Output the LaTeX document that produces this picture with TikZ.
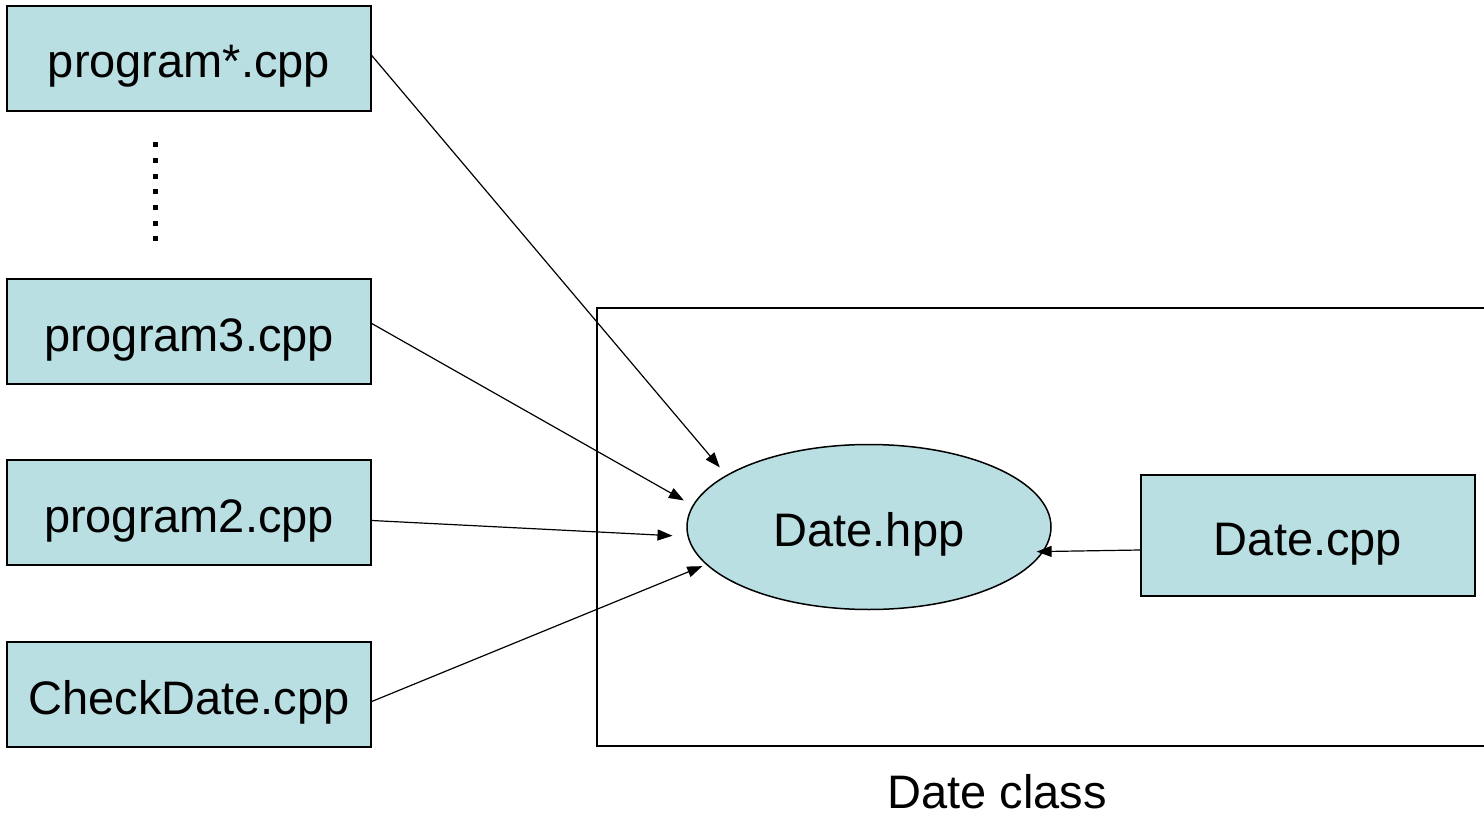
\documentclass[tikz,border=0pt]{standalone}
\usepackage{fontspec}
\setmainfont{Liberation Sans}
\usetikzlibrary{arrows.meta,positioning,shapes.geometric}
\definecolor{filebg}{RGB}{186,223,227}

\begin{document}
\begin{tikzpicture}[x=1pt,y=-1pt,node distance=181pt,on grid,
  every node/.style={font=\fontsize{47}{56}\selectfont,text height=39pt,text depth=0pt},
  file/.style={draw,fill=filebg,line width=1.5pt,minimum width=364pt,minimum height=105pt,inner sep=0pt},
  header/.style={ellipse,draw,fill=filebg,line width=1.5pt,minimum width=364pt,minimum height=165pt,inner sep=0pt},
  uses/.style={-{Triangle[length=15pt,width=11pt]},line width=1.2pt}]
  \useasboundingbox (0,0) rectangle (1484,813);

  \path
  node[file] (pstar) at (189,58.5) {program*.cpp}
  node[file] (p3) [below=273pt of pstar] {program3.cpp}
  node[file] (p2) [below=of p3] {program2.cpp}
  node[file] (cd) [below=182pt of p2] {CheckDate.cpp}
  node[header] (hpp) at (869,527) {Date.hpp}
  node[file,minimum width=334pt,minimum height=121pt] (dcpp) at (1308,535.5) {Date.cpp}
  node[inner sep=0pt] (cls) at (997,788.5) {Date class}
  ;

  % class frame, open at the right
  \draw[line width=1.5pt] (1484,308) -| (597,746) -- (1484,746);

  % dots between the programs
  \foreach \y in {145,161,177,192,208,224,239}
    \fill (153,\y-2.5) rectangle ++(5,5);

  \path[uses]
  ([yshift=3pt]pstar.east) edge[shorten >=10pt] (hpp.160)
  ([yshift=8pt]p3.east) edge[shorten >=10pt] (hpp.173)
  ([yshift=-8pt]p2.east) edge[shorten >=15pt] (hpp.183)
  ([yshift=-7pt]cd.east) edge[shorten >=4pt] (hpp.193)
  ([yshift=-14.5pt]dcpp.west) edge[shorten >=-7pt] (hpp.352)
  ;
\end{tikzpicture}
\end{document}
